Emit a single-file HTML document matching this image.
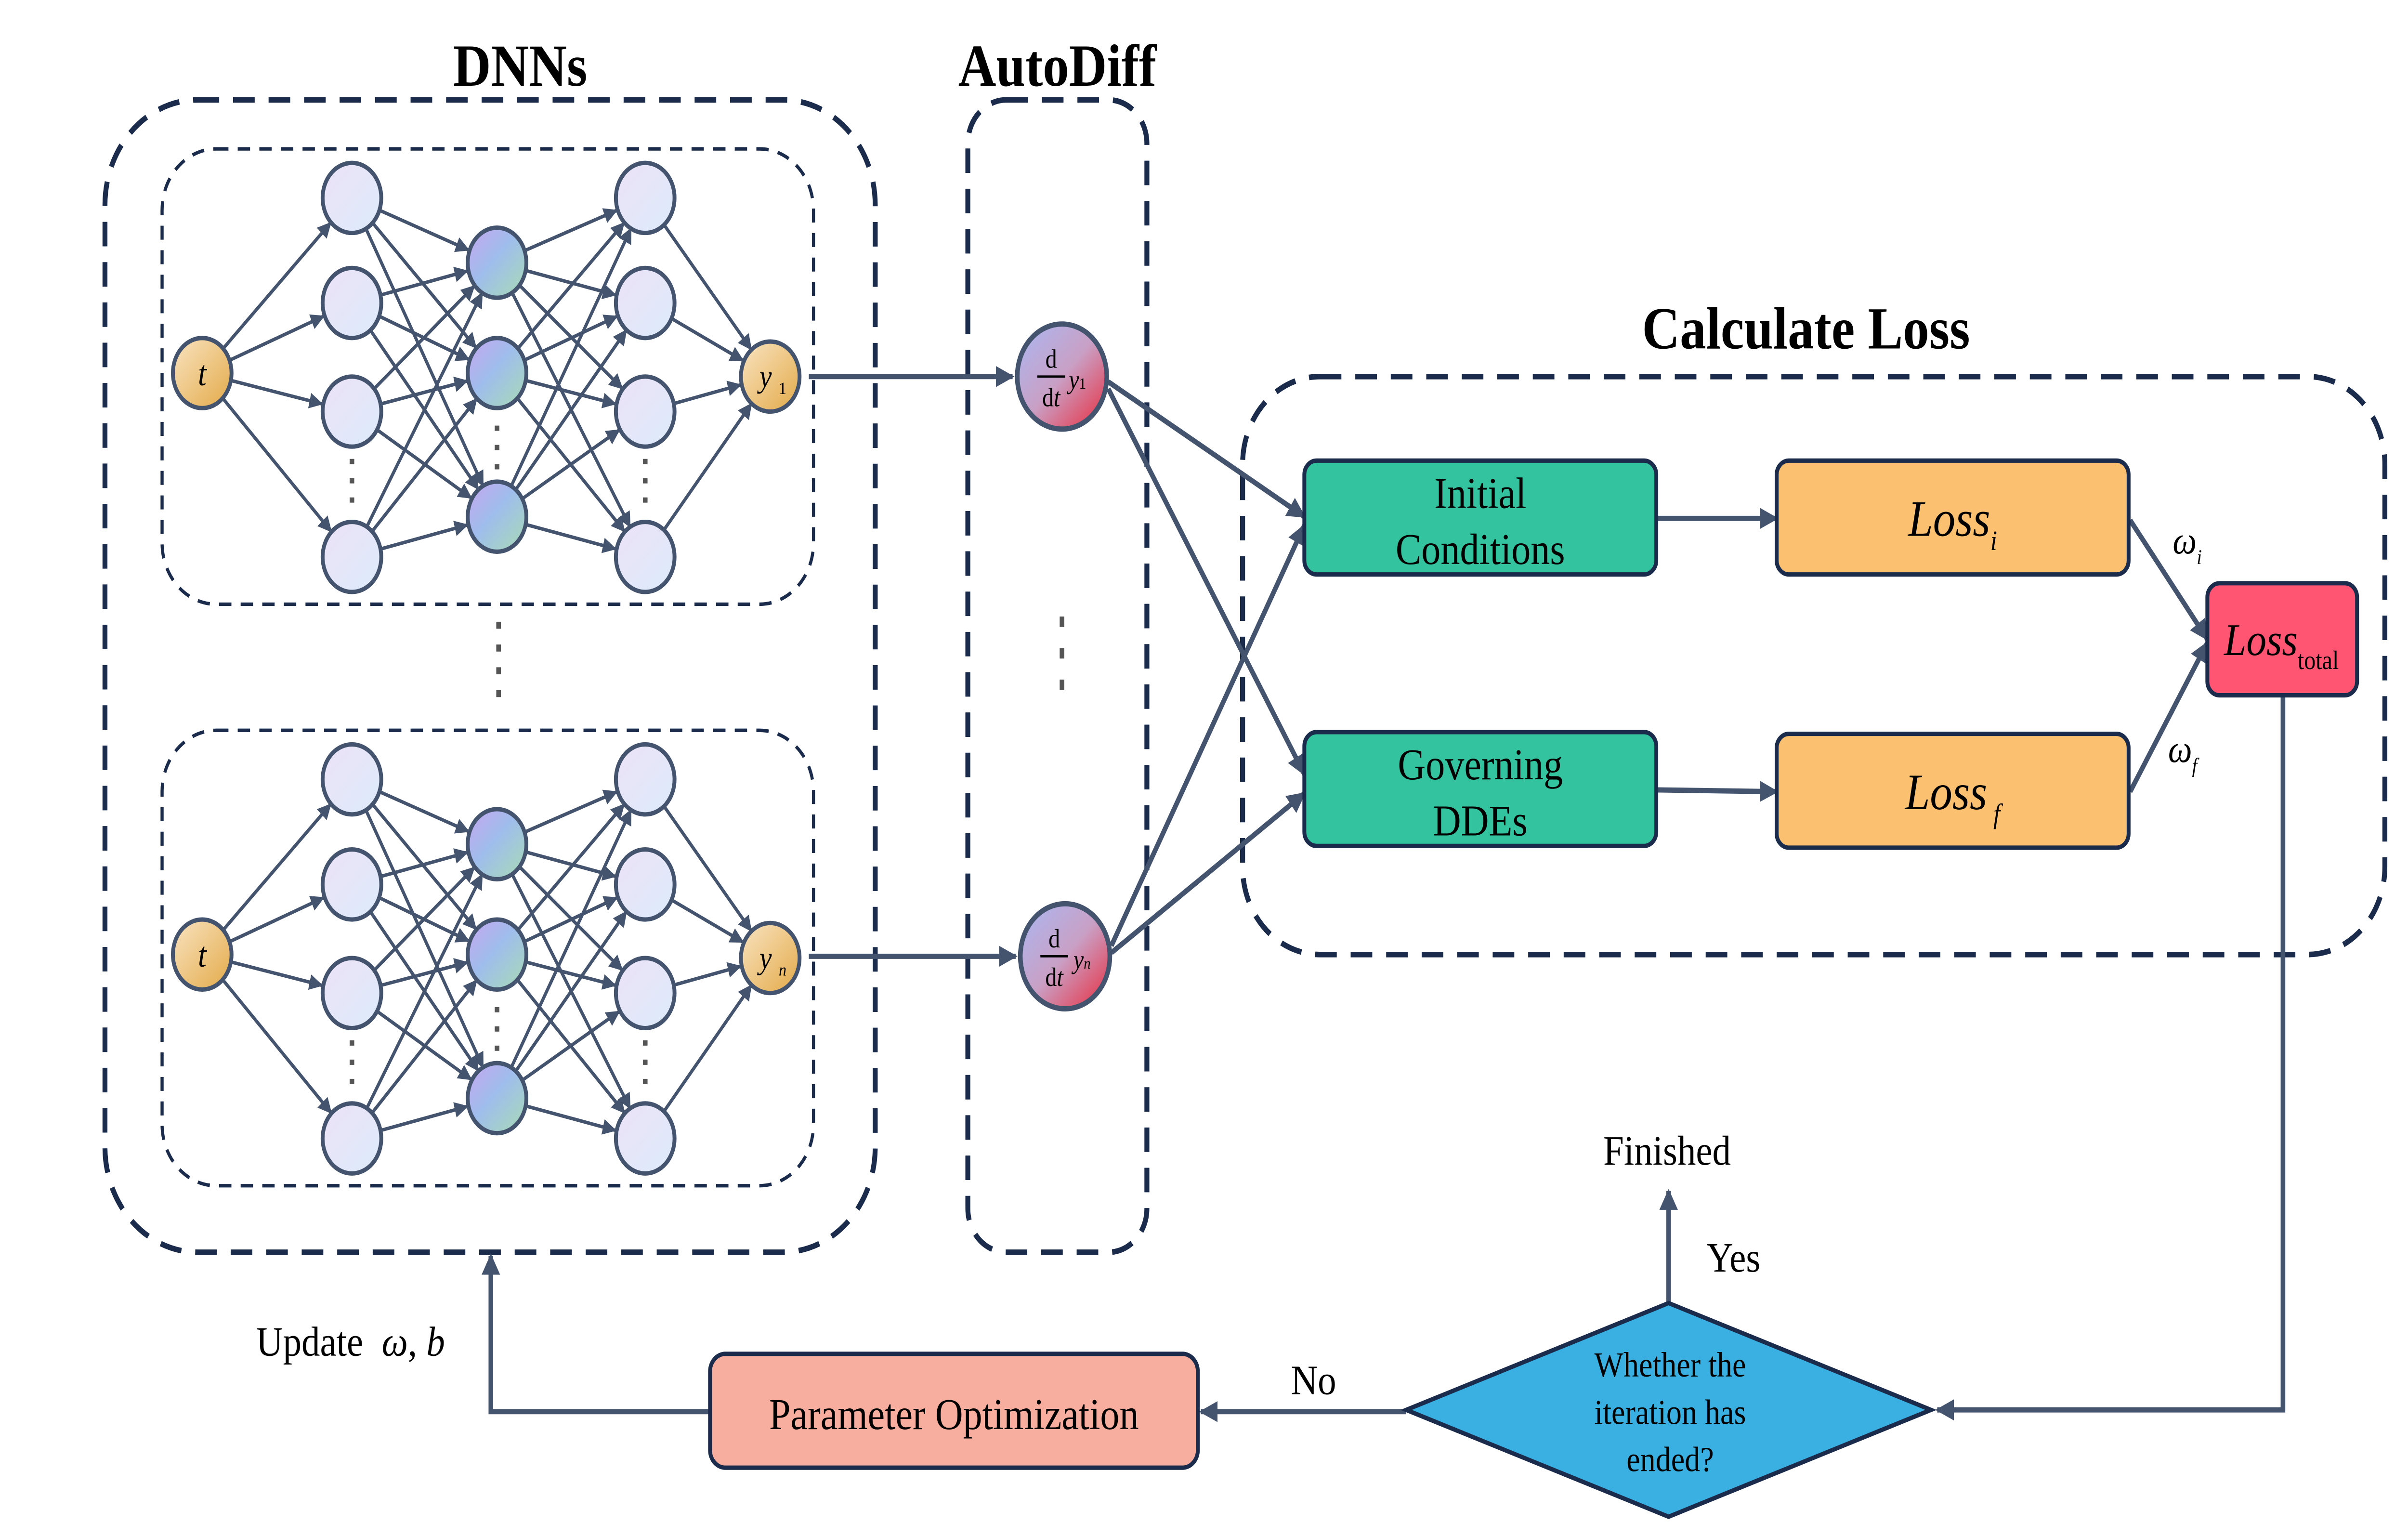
<!DOCTYPE html>
<html><head><meta charset="utf-8"><style>
html,body{margin:0;padding:0;background:#fff;width:100%;height:100%;overflow:hidden;}
svg{display:block;position:fixed;left:0;top:0;width:100vw;height:100vh;}
text{font-family:"Liberation Serif",serif;}
</style></head><body>
<svg id="s" viewBox="0 0 1560 877" preserveAspectRatio="none" xmlns="http://www.w3.org/2000/svg">
<defs>
<marker id="ah" viewBox="0 0 10 10" refX="9" refY="5" markerWidth="9" markerHeight="9" markerUnits="userSpaceOnUse" orient="auto"><path d="M0,0 L10,5 L0,10 z" fill="#44546e"/></marker>
<marker id="ahb" viewBox="0 0 10 10" refX="9" refY="5" markerWidth="12" markerHeight="12" markerUnits="userSpaceOnUse" orient="auto"><path d="M0,0 L10,5 L0,10 z" fill="#44546e"/></marker>
<linearGradient id="gL" x1="0" y1="0" x2="1" y2="1"><stop offset="0" stop-color="#ede2f7"/><stop offset="1" stop-color="#dcebfa"/></linearGradient>
<linearGradient id="gM" x1="0" y1="0" x2="1" y2="1"><stop offset="0" stop-color="#c7a5f0"/><stop offset="0.45" stop-color="#9fbdec"/><stop offset="1" stop-color="#a8dcb4"/></linearGradient>
<linearGradient id="gY" x1="0" y1="0" x2="1" y2="1"><stop offset="0" stop-color="#f9e4c2"/><stop offset="1" stop-color="#e3aa48"/></linearGradient>
<linearGradient id="gD" x1="0" y1="0" x2="1" y2="1"><stop offset="0" stop-color="#a9b8f3"/><stop offset="0.5" stop-color="#c9a0c5"/><stop offset="1" stop-color="#ea2a3b"/></linearGradient>
</defs>
<g id="edges" stroke="#44546e" stroke-width="2" fill="none"></g>
<g id="nodes"></g>

<text x="337" y="49" font-size="34" font-weight="bold" text-anchor="middle">DNNs</text>
<text x="685" y="49" font-size="34" font-weight="bold" text-anchor="middle">AutoDiff</text>
<text x="1170" y="199" font-size="34" font-weight="bold" text-anchor="middle">Calculate Loss</text>

<rect x="68" y="57" width="499" height="658" rx="60" fill="none" stroke="#1a2b4c" stroke-width="3.2" stroke-dasharray="14,9"/>
<rect x="105" y="85" width="422" height="260" rx="35" fill="none" stroke="#1a2b4c" stroke-width="2" stroke-dasharray="8,6"/>
<rect x="105" y="417" width="422" height="260" rx="35" fill="none" stroke="#1a2b4c" stroke-width="2" stroke-dasharray="8,6"/>
<line x1="323" y1="355" x2="323" y2="405" stroke="#555" stroke-width="3" stroke-dasharray="4,9"/>
<rect x="627" y="57" width="116" height="658" rx="25" fill="none" stroke="#1a2b4c" stroke-width="3.2" stroke-dasharray="14,9"/>
<line x1="688" y1="352" x2="688" y2="402" stroke="#555" stroke-width="3" stroke-dasharray="6,12"/>
<rect x="805" y="215" width="740" height="330" rx="50" fill="none" stroke="#1a2b4c" stroke-width="3.2" stroke-dasharray="14,9"/>

<g stroke="#44546e" stroke-width="3" fill="none">
<line x1="524" y1="215" x2="656" y2="215" marker-end="url(#ahb)"/>
<line x1="524" y1="546" x2="658" y2="546" marker-end="url(#ahb)"/>
<line x1="718" y1="218" x2="845" y2="295" marker-end="url(#ahb)"/>
<line x1="718" y1="222" x2="845" y2="442" marker-end="url(#ahb)"/>
<line x1="720" y1="540" x2="845" y2="300" marker-end="url(#ahb)"/>
<line x1="720" y1="544" x2="845" y2="453" marker-end="url(#ahb)"/>
<line x1="1073" y1="296" x2="1151" y2="296" marker-end="url(#ahb)"/>
<line x1="1073" y1="451" x2="1151" y2="452" marker-end="url(#ahb)"/>
<line x1="1380" y1="297" x2="1430" y2="365" marker-end="url(#ahb)"/>
<line x1="1380" y1="452" x2="1430" y2="367" marker-end="url(#ahb)"/>
<polyline points="1479,397 1479,805 1255,805" marker-end="url(#ahb)"/>
<line x1="1081" y1="744" x2="1081" y2="680" marker-end="url(#ahb)"/>
<line x1="911" y1="806" x2="778" y2="806" marker-end="url(#ahb)"/>
<polyline points="460,806 318,806 318,717" marker-end="url(#ahb)"/>
</g>

<ellipse cx="688" cy="215" rx="29" ry="30" fill="url(#gD)" stroke="#44546e" stroke-width="3"/>
<ellipse cx="690" cy="546" rx="29" ry="30" fill="url(#gD)" stroke="#44546e" stroke-width="3"/>
<g font-size="15" text-anchor="middle">
<text x="681" y="210">d</text><line x1="672" y1="215" x2="690" y2="215" stroke="#000" stroke-width="1.3"/><text x="681" y="232">d<tspan font-style="italic">t</tspan></text><text x="698" y="222" font-style="italic">y<tspan font-size="9" font-style="normal">1</tspan></text>
<text x="683" y="541">d</text><line x1="674" y1="546" x2="692" y2="546" stroke="#000" stroke-width="1.3"/><text x="683" y="563">d<tspan font-style="italic">t</tspan></text><text x="701" y="553" font-style="italic">y<tspan font-size="9">n</tspan></text>
</g>

<g stroke="#1a2b4c" stroke-width="2.5">
<rect x="845" y="263" width="228" height="65" rx="8" fill="#33c39f"/>
<rect x="845" y="418" width="228" height="65" rx="8" fill="#33c39f"/>
<rect x="1151" y="263" width="228" height="65" rx="8" fill="#fbc170"/>
<rect x="1151" y="419" width="228" height="65" rx="8" fill="#fbc170"/>
<rect x="1430" y="333" width="97" height="64" rx="8" fill="#ff5573"/>
<rect x="460" y="773" width="316" height="65" rx="10" fill="#f8ae9e"/>
<polygon points="911,805 1081,744 1251,805 1081,866" fill="#3ab0e2"/>
</g>
<g font-size="25" text-anchor="middle">
<text x="959" y="290">Initial</text>
<text x="959" y="322">Conditions</text>
<text x="959" y="445">Governing</text>
<text x="959" y="477">DDEs</text>
</g>
<g font-style="italic" text-anchor="middle">
<text x="1265" y="306" font-size="29">Loss<tspan font-size="16" dy="8">i</tspan></text>
<text x="1265" y="462" font-size="29">Loss<tspan font-size="16" dy="8"> f</tspan></text>
<text x="1478" y="374" font-size="26">Loss<tspan font-size="15" dy="8" font-style="normal">total</tspan></text>
<text x="1417" y="316" font-size="22">ω<tspan font-size="12" dy="6">i</tspan></text>
<text x="1414" y="435" font-size="22">ω<tspan font-size="12" dy="6">f</tspan></text>
</g>
<text x="618" y="816" font-size="25" text-anchor="middle">Parameter Optimization</text>
<g font-size="20" text-anchor="middle">
<text x="1082" y="786">Whether the</text>
<text x="1082" y="813">iteration has</text>
<text x="1082" y="840">ended?</text>
</g>
<text x="1080" y="665" font-size="24" text-anchor="middle">Finished</text>
<text x="1123" y="726" font-size="24" text-anchor="middle">Yes</text>
<text x="851" y="796" font-size="24" text-anchor="middle">No</text>
<text x="166" y="774" font-size="24">Update <tspan font-style="italic" dx="6">ω</tspan>, <tspan font-style="italic">b</tspan></text>

<script>
(function(){
var NS="http://www.w3.org/2000/svg";
var E=document.getElementById("edges"),N=document.getElementById("nodes");
function el(t,a,p){var e=document.createElementNS(NS,t);for(var k in a)e.setAttribute(k,a[k]);p.appendChild(e);return e;}
var R=19;
function net(dy,lab){
 var t=[[131,213+dy]],L1=[113,173,235,318].map(function(y){return [228,y+dy]});
 var L2=[150,213,295].map(function(y){return [322,y+dy]});
 var L3=[113,173,235,318].map(function(y){return [418,y+dy]});
 var Y=[[499,215+dy]];
 var layers=[t,L1,L2,L3,Y];
 for(var i=0;i<4;i++){layers[i].forEach(function(a){layers[i+1].forEach(function(b){
  var dx=b[0]-a[0],dyy=b[1]-a[1],d=Math.sqrt(dx*dx+dyy*dyy),ux=dx/d,uy=dyy/d;
  el("line",{x1:a[0]+ux*R,y1:a[1]+uy*R,x2:b[0]-ux*(R+1),y2:b[1]-uy*(R+1),"marker-end":"url(#ah)"},E);
 });});}
 function c(p,f){el("ellipse",{cx:p[0],cy:p[1],rx:R,ry:R+1,fill:f,stroke:"#44546e","stroke-width":2.5},N);}
 L1.forEach(function(p){c(p,"url(#gL)")});L3.forEach(function(p){c(p,"url(#gL)")});
 L2.forEach(function(p){c(p,"url(#gM)")});c(t[0],"url(#gY)");c(Y[0],"url(#gY)");
 [[228,262+dy,290+dy],[322,243+dy,275+dy],[418,262+dy,290+dy]].forEach(function(q){
  el("line",{x1:q[0],y1:q[1],x2:q[0],y2:q[2],stroke:"#555","stroke-width":3,"stroke-dasharray":"3,8"},N);});
 var tt=el("text",{x:131,y:220+dy,"font-size":20,"font-style":"italic","text-anchor":"middle"},N);tt.textContent="t";
 var yy=el("text",{x:496,y:221+dy,"font-size":18,"font-style":"italic","text-anchor":"middle"},N);yy.textContent="y";
 var ss=el("text",{x:507,y:225+dy,"font-size":10,"font-style":lab=="n"?"italic":"normal","text-anchor":"middle"},N);ss.textContent=lab;
}
net(0,"1");net(332,"n");
})();
</script>
</svg>
</body></html>
